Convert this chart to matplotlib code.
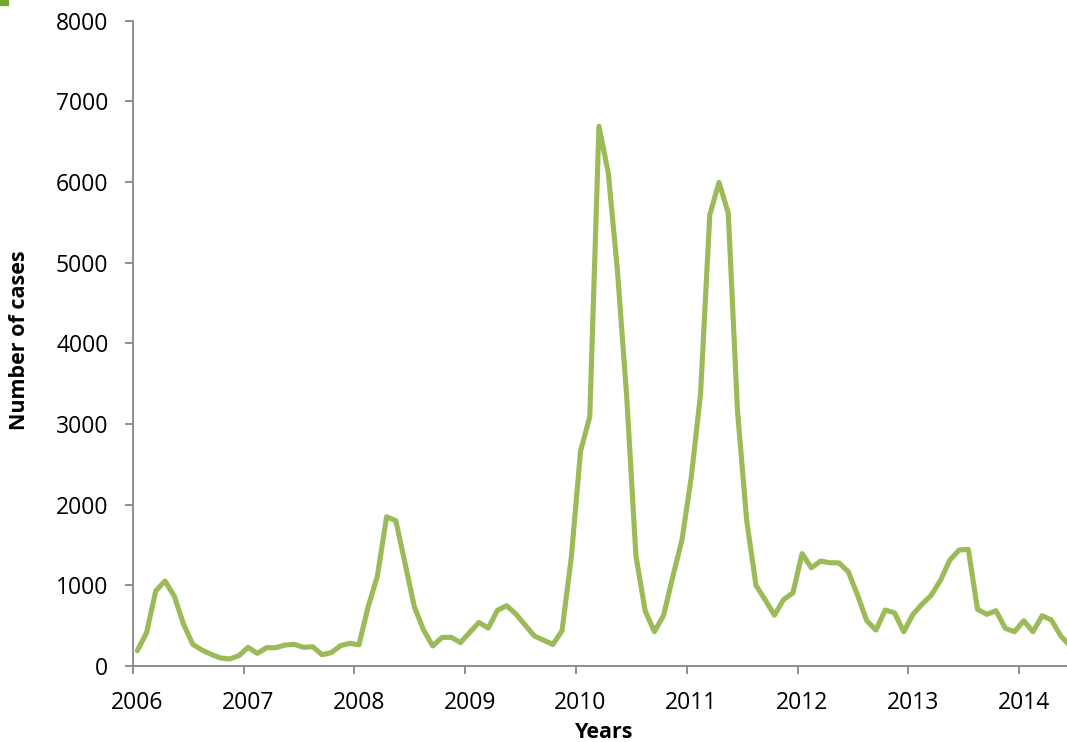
import matplotlib
matplotlib.use("Agg")
import matplotlib.pyplot as plt
from matplotlib.patches import Rectangle
import numpy as np

# Monthly number of cases, Jan 2006 onwards
start_year = 2006
cases = [190, 412, 932, 1053, 867, 520, 268, 198, 145, 99, 87, 128,
         231, 157, 227, 227, 260, 268, 231, 239, 140, 165, 251, 281,
         262, 734, 1115, 1849, 1800, 1271, 734, 446, 248, 355, 355, 290,
         417, 540, 470, 690, 748, 644, 508, 372, 320, 267, 437, 1345,
         2661, 3088, 6689, 6115, 4899, 3340, 1367, 685, 425, 628, 1110, 1570,
         2345, 3372, 5594, 5993, 5615, 3163, 1800, 1000, 820, 630, 825, 905,
         1393, 1216, 1300, 1280, 1277, 1168, 879, 561, 446, 693, 660, 425,
         640, 768, 879, 1065, 1313, 1437, 1445, 702, 640, 685, 467, 425,
         561, 425, 623, 570, 375, 250]
year_labels = ["2006", "2007", "2008", "2009", "2010", "2011", "2012", "2013", "2014"]
y_ticks = [0, 1000, 2000, 3000, 4000, 5000, 6000, 7000, 8000]

x = start_year + (np.arange(len(cases)) + 0.5) / 12.0

plt.rcParams['font.family'] = ['Open Sans', 'DejaVu Sans']

fig = plt.figure(figsize=(10.67, 7.42), dpi=100)
ax = fig.add_axes([132.7 / 1067, 1 - 666 / 742, 1 - 132.7 / 1067, (666 - 20.5) / 742])

green = '#9BBB59'
axis_gray = '#868686'

ax.plot(x, cases, color=green, linewidth=3.7, solid_joinstyle='round', solid_capstyle='round', clip_on=True)

ax.set_xlim(2006, 2006 + (1067 - 132.7) / 110.8)
ax.set_ylim(0, 8000)

# year boundary tick marks (no labels), labels at mid-January
years = np.array([int(y) for y in year_labels])
ax.set_xticks(years)
ax.set_xticklabels([])
ax.set_xticks(years + 0.5 / 12, minor=True)
ax.set_xticklabels(year_labels, minor=True)
ax.tick_params(axis='x', which='major', direction='out', length=6, width=1.3, color=axis_gray)
ax.tick_params(axis='x', which='minor', length=0, pad=18, labelsize=16.5, labelcolor='black')

ax.set_yticks(y_ticks)
ax.set_yticklabels([str(v) for v in y_ticks])
ax.tick_params(axis='y', direction='out', length=5.5, width=1.3, color=axis_gray,
               pad=12, labelsize=16.5, labelcolor='black')

for s in ['top', 'right']:
    ax.spines[s].set_visible(False)
for s in ['left', 'bottom']:
    ax.spines[s].set_color(axis_gray)
    ax.spines[s].set_linewidth(1.3)

fig.text(20 / 1067, 1 - 340 / 742, 'Number of cases', rotation=90, ha='center', va='center',
         fontsize=15.5, fontweight='bold')
fig.text(604 / 1067, 1 - 733 / 742, 'Years', ha='center', va='center',
         fontsize=15.5, fontweight='bold')

# small green mark at top-left corner (cut-off figure label)
fig.patches.append(Rectangle((0, 1 - 5 / 742), 8 / 1067, 5 / 742, transform=fig.transFigure,
                             color='#76A72A', zorder=5))

fig.savefig('out.png', dpi=100)
